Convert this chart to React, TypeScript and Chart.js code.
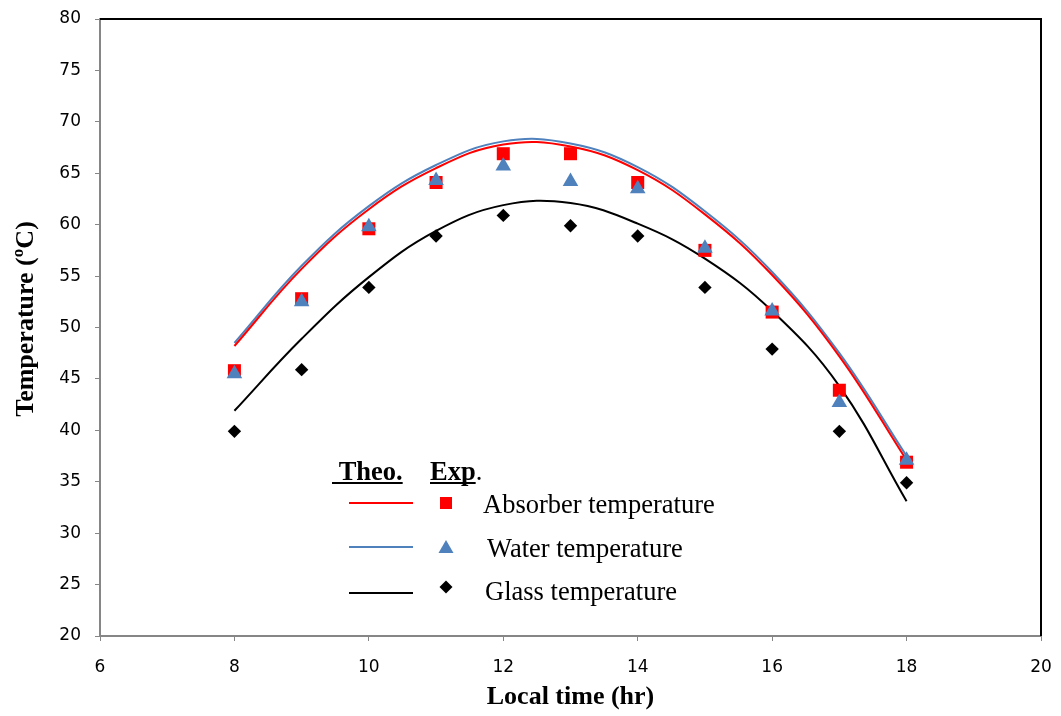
import React, { useEffect, useRef } from "react";
import { Chart, registerables } from "chart.js";

Chart.register(...registerables);

// ---- data ----
const hours = [8, 9, 10, 11, 12, 13, 14, 15, 16, 17, 18];
const absorberExp = [45.8, 52.8, 59.6, 64.1, 66.9, 66.9, 64.1, 57.5, 51.5, 43.9, 36.9];
const waterExp = [45.5, 52.5, 59.8, 64.3, 65.7, 64.2, 63.5, 57.7, 51.6, 42.7, 37.1];
const glassExp = [39.9, 45.9, 53.9, 58.9, 60.9, 59.9, 58.9, 53.9, 47.9, 39.9, 34.9];
const absorberTheo = [48.2, 55.7, 61.5, 65.5, 67.8, 67.6, 65.3, 61.0, 55.1, 47.2, 37.1];
const waterTheo = [48.5, 56.0, 61.8, 65.8, 68.1, 67.9, 65.6, 61.3, 55.4, 47.5, 37.5];
const glassTheo = [41.9, 48.9, 54.9, 59.4, 61.9, 62.1, 60.1, 56.7, 51.6, 44.3, 33.1];
const xTicks = [6, 8, 10, 12, 14, 16, 18, 20];
const yTicks = [20, 25, 30, 35, 40, 45, 50, 55, 60, 65, 70, 75, 80];
const legendLabels = ["Absorber temperature", "Water temperature", "Glass temperature"];
const xTitle = "Local time (hr)";
const yTitle = "Temperature (ºC)";

const RED = "#FF0000";
const BLUE = "#4F81BD";
const BLACK = "#000000";
const AXIS_GRAY = "#868686";
const SERIF = "'Liberation Serif', 'Times New Roman', serif";
const SANS = "'DejaVu Sans', sans-serif";

const pts = (ys: number[]) => hours.map((h, i) => ({ x: h, y: ys[i] }));

const framePlugin = {
  id: "frameAndLegend",
  afterDraw(chart: any) {
    const ctx: CanvasRenderingContext2D = chart.ctx;
    const { left, top, right, bottom } = chart.chartArea;
    ctx.save();
    // top and right frame
    ctx.strokeStyle = "#000";
    ctx.lineWidth = 2;
    ctx.beginPath();
    ctx.moveTo(left, top);
    ctx.lineTo(right, top);
    ctx.lineTo(right, bottom);
    ctx.stroke();

    // y-axis title
    ctx.save();
    ctx.translate(26, 319);
    ctx.rotate(-Math.PI / 2);
    ctx.font = `bold 26px ${SERIF}`;
    ctx.fillStyle = "#000";
    ctx.textAlign = "center";
    ctx.textBaseline = "middle";
    ctx.fillText(yTitle, 0, 0);
    ctx.restore();

    // legend
    ctx.fillStyle = "#000";
    ctx.textBaseline = "alphabetic";
    ctx.textAlign = "left";
    ctx.font = `bold 26.5px ${SERIF}`;
    const theo = " Theo.";
    const tx = 332;
    const by = 480;
    ctx.fillText(theo, tx, by);
    const tw = ctx.measureText(theo).width;
    ctx.fillRect(tx, by + 2, tw, 2);
    const exp = "Exp";
    const ex = 430;
    ctx.fillText(exp, ex, by);
    const ew = ctx.measureText(exp).width;
    ctx.fillRect(ex, by + 2, ew, 2);
    ctx.font = `26.5px ${SERIF}`;
    ctx.fillText(".", ex + ew, by);

    const rows = [
      { color: RED, lineY: 503, markY: 503, textY: 513, textX: 483, kind: "rect" },
      { color: BLUE, lineY: 547, markY: 547, textY: 557, textX: 487, kind: "tri" },
      { color: BLACK, lineY: 593, markY: 587, textY: 600, textX: 485, kind: "dia" },
    ];
    rows.forEach((r, i) => {
      ctx.strokeStyle = r.color;
      ctx.lineWidth = 2;
      ctx.beginPath();
      ctx.moveTo(349, r.lineY);
      ctx.lineTo(413, r.lineY);
      ctx.stroke();
      ctx.fillStyle = r.color;
      const mx = 446;
      const my = r.markY;
      ctx.beginPath();
      if (r.kind === "rect") {
        ctx.rect(mx - 6, my - 6, 12, 12);
      } else if (r.kind === "tri") {
        ctx.moveTo(mx, my - 7);
        ctx.lineTo(mx + 7.5, my + 6);
        ctx.lineTo(mx - 7.5, my + 6);
        ctx.closePath();
      } else {
        ctx.moveTo(mx, my - 6.5);
        ctx.lineTo(mx + 6.5, my);
        ctx.lineTo(mx, my + 6.5);
        ctx.lineTo(mx - 6.5, my);
        ctx.closePath();
      }
      ctx.fill();
      ctx.fillStyle = "#000";
      ctx.font = `26.5px ${SERIF}`;
      ctx.fillText(legendLabels[i], r.textX, r.textY);
    });
    ctx.restore();
  },
};

export default function App() {
  const canvasRef = useRef<HTMLCanvasElement | null>(null);

  useEffect(() => {
    const canvas = canvasRef.current;
    if (!canvas) return;
    const lineDs = (label: string, data: number[], color: string) => ({
      label,
      data: pts(data),
      showLine: true,
      borderColor: color,
      backgroundColor: color,
      borderWidth: 2,
      pointRadius: 0,
      tension: 0.4,
      order: 10,
    });
    const markDs = (label: string, data: number[], color: string, style: string, radius: number, order: number) => ({
      label,
      data: pts(data),
      showLine: false,
      pointStyle: style,
      pointRadius: radius,
      pointBackgroundColor: color,
      pointBorderColor: color,
      pointBorderWidth: 0,
      order,
    });

    const chart = new Chart(canvas, {
      type: "scatter",
      data: {
        datasets: [
          lineDs("Absorber theo", absorberTheo, RED),
          lineDs("Water theo", waterTheo, BLUE),
          lineDs("Glass theo", glassTheo, BLACK),
          markDs("Absorber exp", absorberExp, RED, "rect", 9.2, 3),
          markDs("Water exp", waterExp, BLUE, "triangle", 9, 2),
          markDs("Glass exp", glassExp, BLACK, "rectRot", 6.7, 1),
        ] as any,
      },
      options: {
        animation: false,
        responsive: false,
        devicePixelRatio: 1,
        layout: { padding: { top: 19, right: 20, left: 0, bottom: 0 } },
        plugins: { legend: { display: false }, tooltip: { enabled: false } },
        scales: {
          x: {
            type: "linear",
            min: 6,
            max: 20,
            afterBuildTicks: (s: any) => {
              s.ticks = xTicks.map((v) => ({ value: v }));
            },
            afterFit: (s: any) => {
              s.height = 80;
              s.paddingLeft = 0;
              s.paddingRight = 0;
            },
            ticks: {
              color: "#000",
              font: { family: SANS, size: 17 },
              padding: 16,
              maxRotation: 0,
            },
            grid: {
              display: true,
              drawOnChartArea: false,
              drawTicks: true,
              tickLength: 5,
              tickColor: AXIS_GRAY,
              tickWidth: 1,
              color: AXIS_GRAY,
            },
            border: { display: true, color: AXIS_GRAY, width: 2 },
            title: {
              display: true,
              text: xTitle,
              color: "#000",
              font: { family: SERIF, size: 26, weight: "bold" },
              padding: { top: 0, bottom: 3 },
            },
          },
          y: {
            type: "linear",
            min: 20,
            max: 80,
            afterBuildTicks: (s: any) => {
              s.ticks = yTicks.map((v) => ({ value: v }));
            },
            afterFit: (s: any) => {
              s.width = 100;
              s.paddingTop = 0;
              s.paddingBottom = 0;
            },
            ticks: {
              color: "#000",
              font: { family: SANS, size: 17 },
              padding: 14,
            },
            grid: {
              display: true,
              drawOnChartArea: false,
              drawTicks: true,
              tickLength: 5,
              tickColor: AXIS_GRAY,
              tickWidth: 1,
              color: AXIS_GRAY,
            },
            border: { display: true, color: AXIS_GRAY, width: 2 },
            title: { display: false },
          },
        },
      } as any,
      plugins: [framePlugin],
    });
    return () => chart.destroy();
  }, []);

  return (
    <div style={{ position: "absolute", left: 0, top: 0, width: 1061, height: 716, background: "#fff" }}>
      <canvas ref={canvasRef} width={1061} height={716} style={{ display: "block" }} />
    </div>
  );
}
